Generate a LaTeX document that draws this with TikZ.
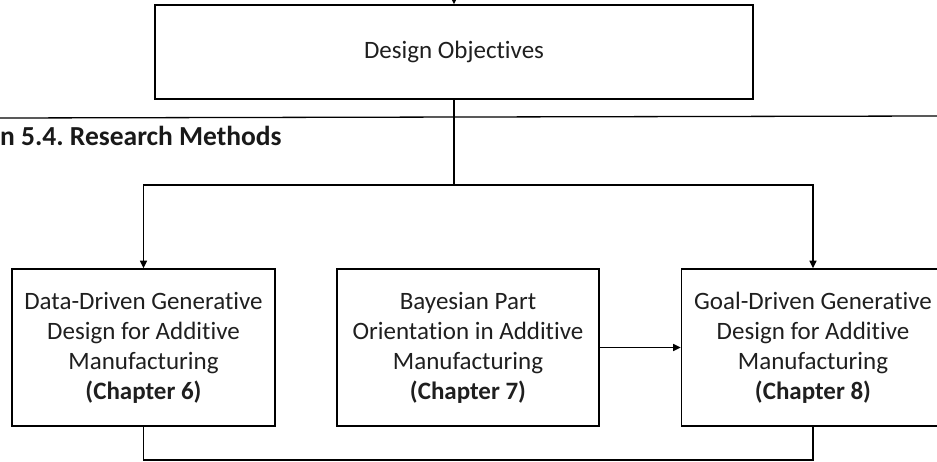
\documentclass[tikz,border=0pt]{standalone}
\usepackage{fontspec}
\setmainfont{Carlito}[Ligatures={NoCommon}]
\usetikzlibrary{arrows.meta}

\begin{document}
\frenchspacing
\begin{tikzpicture}[x=1pt,y=-1pt,
  box/.style={draw=black,line width=1.7pt,rectangle,inner sep=0pt,align=center,
    font=\fontsize{25}{30}\selectfont,text=black!88},
  methodbox/.style={box,minimum width=263pt,minimum height=157pt},
  link/.style={draw=black,line width=1.3pt},
  arrowlink/.style={link,-{Triangle[length=7.5pt,width=7pt]}},
  heading/.style={font=\fontsize{27.5}{32}\selectfont\bfseries,text=black!90,inner sep=0pt,anchor=west}
]
\useasboundingbox (0,0) rectangle (937,461);

% objectives box fed from above
\node[box,minimum width=598pt,minimum height=94pt] (obj) at (454,52) {Design Objectives};
\coordinate (feed) at (454,-4);
\draw[arrowlink] (feed) -- (obj.north);

% section divider and heading
\coordinate (divl) at (0,118);
\coordinate (divr) at (937,116);
\draw[link] (divl) -- (divr);
\node[heading] (title) at (0,136) {n 5.4. Research Methods};

% the three method boxes
\node[methodbox] (dd) at (143.5,347.5) {Data-Driven Generative\\Design for Additive\\Manufacturing\\\textbf{(Chapter 6)}};
\node[methodbox,minimum width=262pt] (bo) at (468,347.5) {Bayesian Part\\Orientation in Additive\\Manufacturing\\\textbf{(Chapter 7)}};
\node[methodbox] (gd) at (813,347.5) {Goal-Driven Generative\\Design for Additive\\Manufacturing\\\textbf{(Chapter 8)}};

% branching from the objectives
\coordinate (split) at (454,185);
\draw[link] (obj.south) -- (split);
\draw[arrowlink] (split) -| (dd.north);
\draw[arrowlink] (split) -| (gd.north);

% orientation feeds goal-driven design
\draw[arrowlink] (bo.east) -- (gd.west);

% joining line below the boxes
\coordinate (jl) at (143.5,460);
\coordinate (jr) at (813,460);
\draw[link] (dd.south) -- (jl) -- (jr) -- (gd.south);
\end{tikzpicture}
\end{document}
